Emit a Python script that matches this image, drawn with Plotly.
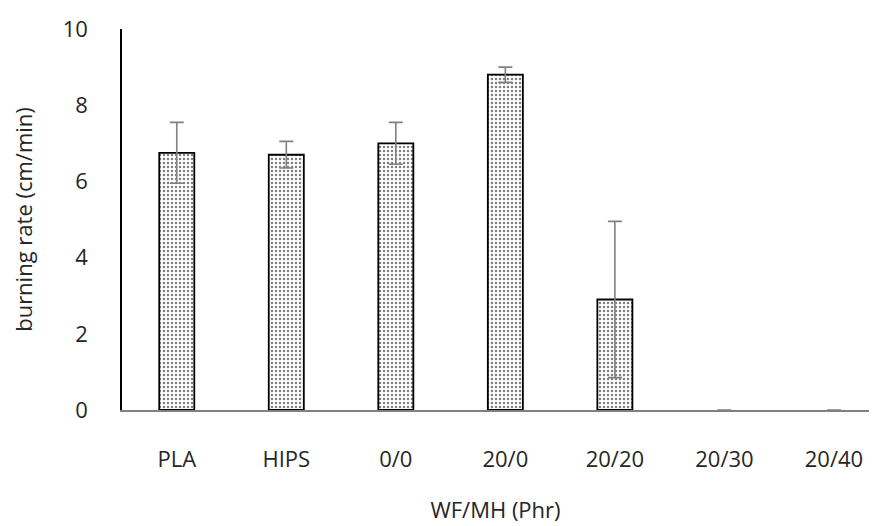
import plotly.graph_objects as go

categories = ["PLA", "HIPS", "0/0", "20/0", "20/20", "20/30", "20/40"]
burning_rate = [6.75, 6.7, 7.0, 8.8, 2.9, 0, 0]
rate_err = [0.8, 0.35, 0.55, 0.2, 2.05, 0, 0]
y_ticks = [0, 2, 4, 6, 8, 10]

font_family = "Open Sans, DejaVu Sans, sans-serif"
text_color = "#262626"

# empty bars get neither an outline nor an error cap
outline_widths = [1.8 if v > 0 else 0 for v in burning_rate]
bar_opacity = [1 if v > 0 else 0 for v in burning_rate]
err_plot = [e if v > 0 else None for v, e in zip(burning_rate, rate_err)]

fig = go.Figure()
fig.add_trace(go.Bar(
    x=list(range(len(categories))),
    y=burning_rate,
    width=0.32,
    marker=dict(
        color="white",
        opacity=bar_opacity,
        line=dict(color="black", width=outline_widths),
        pattern=dict(shape=".", fgcolor="black", bgcolor="white", size=4, solidity=0.3),
    ),
    error_y=dict(type="data", array=err_plot, visible=True,
                 color="#808080", thickness=1.6, width=7),
    showlegend=False,
))

fig.update_layout(
    width=877, height=526,
    margin=dict(l=122, r=8, t=29, b=116),
    paper_bgcolor="white", plot_bgcolor="white",
    font=dict(family=font_family, size=22, color=text_color),
)
fig.update_xaxes(
    range=[-0.5, 6.32],
    tickvals=list(range(len(categories))), ticktext=categories,
    showline=True, linecolor="#808080", linewidth=1.6,
    showgrid=False, zeroline=False, ticks="", ticklabelstandoff=29,
    title=dict(text="WF/MH (Phr)", standoff=30, font=dict(size=22)),
)
fig.update_yaxes(
    range=[0, 10], tickvals=y_ticks,
    showline=True, linecolor="black", linewidth=1.6,
    showgrid=False, zeroline=False, ticks="", ticklabelstandoff=28,
    title=dict(text="burning rate (cm/min)", standoff=24, font=dict(size=22)),
)

fig.write_html("out.html")
